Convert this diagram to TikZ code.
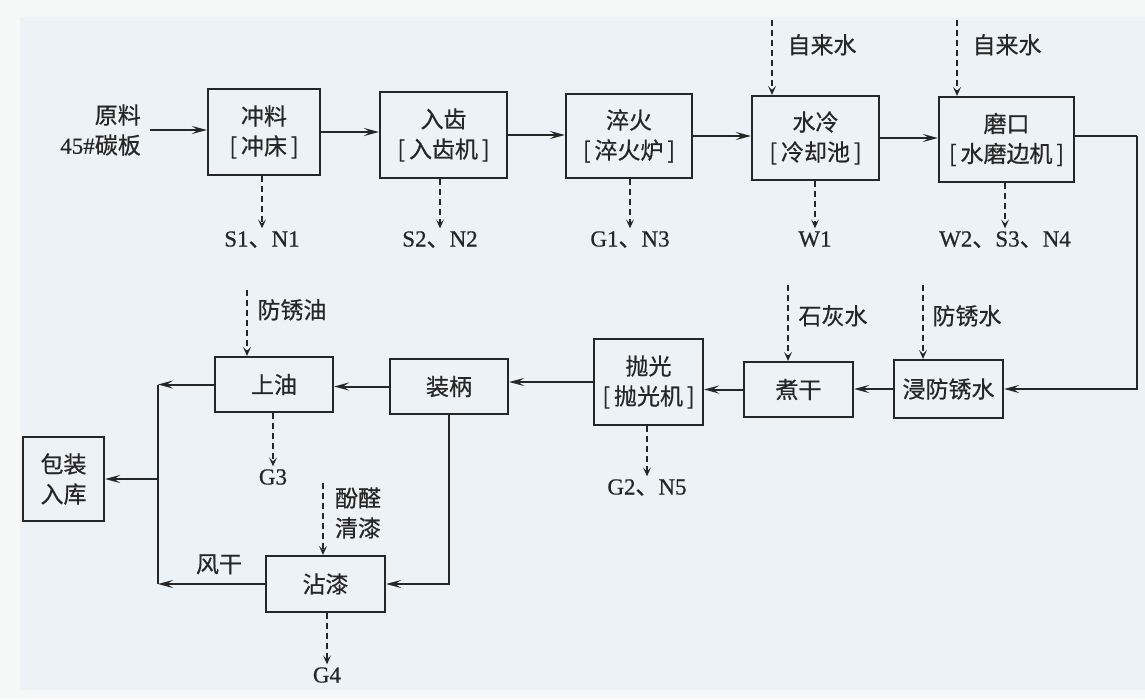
\documentclass[tikz,border=0pt]{standalone}
\usepackage{fontspec}
\newfontfamily\cjk[FakeBold=0.6]{Noto Sans CJK SC}
\newfontfamily\lat[FakeBold=0.6]{Liberation Serif}
\usetikzlibrary{arrows.meta}
\definecolor{outerbg}{HTML}{F6F7F7}
\definecolor{innerbg}{HTML}{ECF2F5}
\definecolor{ink}{HTML}{262626}
\newcommand{\bk}[1]{{[}\,#1\,{]}}
\tikzset{
  box/.style={draw=ink, line width=2.2pt, align=center, inner sep=0pt, text=ink},
  txt/.style={align=center, inner sep=1pt, text=ink, text height=17pt, text depth=4pt},
  mtxt/.style={align=left, inner sep=1pt, text=ink},
  arr/.style={draw=ink, line width=2pt, -{Stealth[length=15pt,width=8pt,inset=6pt]}},
  ln/.style={draw=ink, line width=2pt},
  darr/.style={draw=ink, line width=2.2pt, dash pattern=on 6pt off 4pt, -{Stealth[length=9pt,width=8pt,inset=4pt]}},
}
\begin{document}
\begin{tikzpicture}[x=1pt,y=-1pt, font=\cjk\fontsize{23}{30}\selectfont]
\useasboundingbox (0,0) rectangle (1145,699);
\fill[outerbg] (0,0) rectangle (1145,699);
\fill[innerbg] (20,17) rectangle (1145,690);

% top row boxes
\node[box, minimum width=112pt, minimum height=86pt] (chongliao) at (264,132) {冲料\\\bk{冲床}};
\node[box, minimum width=127pt, minimum height=86pt] (ruchi) at (443.5,135) {入齿\\\bk{入齿机}};
\node[box, minimum width=126pt, minimum height=84pt] (cuihuo) at (629,136) {淬火\\\bk{淬火炉}};
\node[box, minimum width=127pt, minimum height=84pt] (shuileng) at (815.5,138) {水冷\\\bk{冷却池}};
\node[box, minimum width=135pt, minimum height=85pt] (mokou) at (1006.5,139.5) {磨口\\\bk{水磨边机}};

% middle row boxes
\node[box, minimum width=109pt, minimum height=58pt] (jin) at (948.5,389) {浸防锈水};
\node[box, minimum width=109pt, minimum height=55pt] (zhugan) at (798.5,389.5) {煮干};
\node[box, minimum width=109pt, minimum height=86pt] (paoguang) at (648.5,382) {抛光\\\bk{抛光机}};
\node[box, minimum width=118pt, minimum height=55pt] (zhuangbing) at (449,386.5) {装柄};
\node[box, minimum width=118pt, minimum height=55pt] (shangyou) at (274,384.5) {上油};
\node[box, minimum width=81pt, minimum height=84pt] (baozhuang) at (63.5,479) {包装\\入库};
\node[box, minimum width=119pt, minimum height=56pt] (zhanqi) at (325.5,584) {沾漆};

% input
\node[align=right, anchor=east, inner sep=0pt, text=ink] (yuanliao) at (141,130) {原料\\{\lat 45\#}碳板};
\coordinate (yl) at (150,130);
\draw[arr] (yl) -- (chongliao.west |- yl);

% top row flow
\draw[arr] (chongliao.east) -- (ruchi.west |- chongliao.east);
\draw[arr] (ruchi.east) -- (cuihuo.west |- ruchi.east);
\draw[arr] (cuihuo.east) -- (shuileng.west |- cuihuo.east);
\draw[arr] (shuileng.east) -- (mokou.west |- shuileng.east);

% emissions top row
\node[txt] (e1) at (262,240) {{\lat S1}、{\lat N1}};
\node[txt] (e2) at (440,240) {{\lat S2}、{\lat N2}};
\node[txt] (e3) at (630,240) {{\lat G1}、{\lat N3}};
\node[txt] (e4) at (815,240) {{\lat W1}};
\node[txt] (e5) at (1005,240) {{\lat W2}、{\lat S3}、{\lat N4}};
\draw[darr] (chongliao.south -| e1) -- (e1.north);
\draw[darr] (ruchi.south -| e2) -- (e2.north);
\draw[darr] (cuihuo.south -| e3) -- (e3.north);
\draw[darr] (shuileng.south -| e4) -- (e4.north);
\draw[darr] (mokou.south -| e5) -- (e5.north);

% tap water inputs
\coordinate (w1) at (772,20);
\coordinate (w2) at (957,20);
\node[txt] (w1l) at (822,47) {自来水};
\node[txt] (w2l) at (1007,47) {自来水};
\draw[darr] (w1) -- (shuileng.north -| w1);
\draw[darr] (w2) -- (mokou.north -| w2);

% return line
\coordinate (rr) at (1137,136);
\draw[ln] (mokou.east |- rr) -- (rr);
\draw[arr] (rr) |- (jin.east);

% middle row flow
\draw[arr] (jin.west) -- (zhugan.east |- jin.west);
\draw[arr] (zhugan.west) -- (paoguang.east |- zhugan.west);
\draw[arr] (paoguang.west) -- (zhuangbing.east |- paoguang.west);
\draw[arr] (zhuangbing.west) -- (shangyou.east |- zhuangbing.west);

% middle inputs
\coordinate (s1) at (788,285);
\coordinate (s2) at (923,285);
\coordinate (s3) at (247,290);
\node[txt] (s1l) at (833,318) {石灰水};
\node[txt] (s2l) at (967,318) {防锈水};
\node[txt] (s3l) at (292,312) {防锈油};
\draw[darr] (s1) -- (zhugan.north -| s1);
\draw[darr] (s2) -- (jin.north -| s2);
\draw[darr] (s3) -- (shangyou.north -| s3);

% middle emissions
\node[txt] (e6) at (647,488) {{\lat G2}、{\lat N5}};
\node[txt] (e7) at (273,478) {{\lat G3}};
\draw[darr] (paoguang.south -| e6) -- (e6.north);
\draw[darr] (shangyou.south -| e7) -- (e7.north);

% lacquer branch
\draw[arr] (zhuangbing.south) |- (zhanqi.east);
\coordinate (jv) at (158,480);
\draw[arr] (shangyou.west) -- (shangyou.west -| jv);
\draw[arr] (zhanqi.west) -- (zhanqi.west -| jv);
\draw[ln] (shangyou.west -| jv) -- (zhanqi.west -| jv);
\draw[arr] (jv |- baozhuang.east) -- (baozhuang.east);
\node[txt] (fg) at (219,566) {风干};

\coordinate (s4) at (323,483);
\node[mtxt] (s4l) at (358,513) {酚醛\\清漆};
\draw[darr] (s4) -- (zhanqi.north -| s4);
\node[txt] (e8) at (327,676) {{\lat G4}};
\draw[darr] (zhanqi.south -| e8) -- (e8.north);
\end{tikzpicture}
\end{document}
